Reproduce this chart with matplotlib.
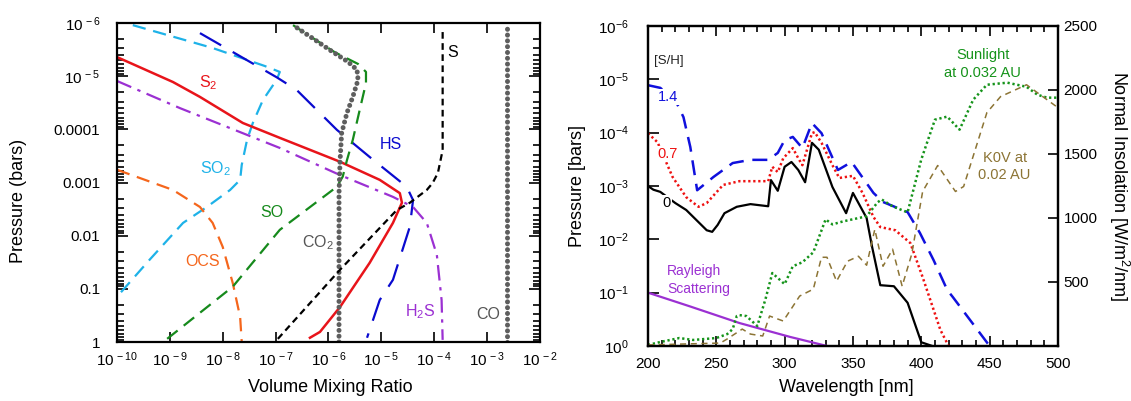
import numpy as np
import matplotlib as mpl
mpl.use('Agg')
import matplotlib.pyplot as plt
from matplotlib.ticker import FixedLocator, NullLocator, MultipleLocator, LogLocator, NullFormatter

plt.rcParams['font.family'] = ['Liberation Sans', 'DejaVu Sans']
plt.rcParams['mathtext.fontset'] = 'custom'
plt.rcParams['mathtext.rm'] = 'Liberation Sans'
plt.rcParams['mathtext.it'] = 'Liberation Sans:italic'
plt.rcParams['mathtext.default'] = 'regular'

# ---- left: mixing ratio profiles, stored as log10(VMR) / log10(P [bar]) ----
so2_x = [-9.70, -8.19, -7.20, -6.92, -6.98, -7.24, -7.43, -7.54, -7.64, -7.67, -7.86, -8.30, -8.75, -9.38, -10.0]
so2_p = [-5.96, -5.53, -5.19, -5.08, -4.93, -4.55, -4.12, -3.80, -3.33, -3.05, -2.86, -2.54, -2.24, -1.55, -0.85]

s2_x = [-10.0, -8.94, -8.43, -7.62, -6.92, -5.78, -5.03, -4.65, -4.61, -4.78, -5.22, -5.78, -6.16, -6.35]
s2_p = [-5.36, -4.89, -4.61, -4.12, -3.84, -3.39, -3.05, -2.80, -2.62, -2.24, -1.49, -0.66, -0.19, -0.08]

h2s_x = [-10.0, -8.81, -6.92, -5.78, -4.78, -4.40, -4.14, -3.95, -3.86, -3.84]
h2s_p = [-4.91, -4.40, -3.65, -3.14, -2.73, -2.54, -2.24, -1.64, -0.79, -0.04]

ocs_x = [-10.0, -8.94, -8.43, -8.19, -8.00, -7.81, -7.67, -7.64]
ocs_p = [-3.24, -2.86, -2.54, -2.24, -1.79, -1.11, -0.47, 0.0]

so_x = [-9.05, -7.81, -6.92, -5.84, -5.73, -5.65, -5.54, -5.41, -5.29, -5.29, -5.44, -5.88, -6.67]
so_p = [-0.06, -1.04, -2.11, -2.92, -3.11, -3.42, -3.80, -4.36, -4.87, -5.08, -5.23, -5.45, -5.96]

co2_x = [-5.80, -5.80, -5.78, -5.75, -5.65, -5.54, -5.44, -5.46, -5.63, -5.97, -6.31, -6.67]
co2_p = [0.0, -2.80, -3.42, -3.93, -4.31, -4.61, -4.93, -5.12, -5.27, -5.49, -5.72, -5.96]

co_x = [-2.63, -2.63]
co_p = [0.0, -6.0]

hs_x = [-8.43, -6.98, -6.60, -5.84, -5.22, -4.52, -4.40, -4.46, -4.78, -5.03, -5.27]
hs_p = [-5.81, -4.98, -4.74, -3.99, -3.48, -2.92, -2.67, -2.17, -1.17, -0.79, -0.08]

s_x = [-3.84, -3.84, -3.93, -4.03, -4.14, -4.46, -4.71, -5.78, -6.92, -7.01]
s_p = [-5.83, -3.61, -3.18, -2.99, -2.86, -2.62, -2.48, -1.36, -0.10, 0.0]

# ---- right: photosphere pressure vs wavelength for three [S/H] ----
wl_0 = [200, 204, 209, 220, 228, 243, 247, 251, 256, 265, 275, 288, 290, 295, 300, 305, 310, 315,
        320, 325, 335, 345, 350, 360, 364, 370, 380, 390, 400, 408]
logp_0 = [-3.00, -2.93, -2.89, -2.68, -2.55, -2.17, -2.14, -2.27, -2.49, -2.61, -2.66, -2.62, -3.11, -2.91,
          -3.36, -3.45, -3.30, -3.07, -3.81, -3.68, -2.98, -2.49, -2.87, -2.40, -1.86, -1.14, -1.12, -0.81,
          -0.07, 0.0]

wl_07 = [200, 207, 218, 228, 237, 243, 255, 267, 288, 291, 295, 299, 306, 310, 313, 320, 322, 327, 335,
         340, 350, 357, 365, 370, 381, 392, 401, 414, 420]
logp_07 = [-3.99, -3.82, -3.17, -2.79, -2.61, -2.68, -3.02, -3.09, -3.09, -3.36, -3.26, -3.52, -3.71, -3.52,
           -3.39, -3.99, -4.01, -3.81, -3.39, -3.15, -3.19, -2.87, -2.42, -2.23, -2.17, -1.93, -1.29, -0.30, 0.0]

wl_14 = [200, 209, 220, 226, 231, 236, 248, 262, 275, 288, 295, 300, 306, 313, 320, 327, 339, 349, 365,
         372, 390, 399, 409, 419, 423, 450]
logp_14 = [-4.89, -4.84, -4.61, -4.29, -3.73, -2.92, -3.17, -3.43, -3.49, -3.49, -3.62, -3.86, -3.92, -3.71,
           -4.18, -3.99, -3.30, -3.45, -2.87, -2.70, -2.51, -2.12, -1.61, -1.05, -0.92, 0.0]

wl_ray = [200, 231, 267, 304, 331]
logp_ray = [-1.00, -0.74, -0.43, -0.17, 0.0]

# insolation [W/m^2/nm]
wl_sun = [200, 209, 223, 233, 250, 258, 262, 265, 267, 272, 280, 286, 291, 300, 306, 313, 321, 330, 335,
          343, 360, 368, 371, 379, 390, 393, 400, 410, 419, 428, 438, 448, 463, 477, 485, 492, 500]
ins_sun = [8, 31, 62, 47, 62, 93, 132, 234, 241, 234, 156, 366, 570, 483, 623, 654, 732, 989, 950,
           974, 1013, 1122, 1145, 1091, 1044, 1169, 1457, 1768, 1792, 1690, 1924, 2041, 2057, 2025, 1963, 1940, 1940]

wl_k0v = [200, 253, 258, 269, 275, 284, 289, 299, 311, 321, 327, 331, 338, 346, 354, 360, 366, 372, 379,
          386, 393, 401, 412, 425, 431, 448, 458, 477, 487, 500]
ins_k0v = [8, 23, 55, 132, 93, 78, 234, 195, 390, 444, 693, 693, 506, 662, 701, 631, 911, 623, 756,
           467, 717, 1207, 1410, 1207, 1246, 1823, 1948, 2041, 1963, 1862]


def p10(a):
    return 10.0 ** np.asarray(a)


fig = plt.figure(figsize=(11.31, 4.01), dpi=100)
TICK_FS = 11
AXLAB_FS = 13

# ================= left panel =================
ax1 = fig.add_axes([0.1034, 0.1471, 0.3740, 0.7955])
ax1.set_xscale('log')
ax1.set_yscale('log')

lw = 1.6
ax1.plot(p10(so2_x), p10(so2_p), color='#1EB2E8', lw=lw, dashes=(6, 3.5))
ax1.plot(p10(hs_x), p10(hs_p), color='#0A0ACF', lw=lw, dashes=(11, 6))
ax1.plot(p10(s2_x), p10(s2_p), color='#E8141A', lw=1.8)
ax1.plot(p10(h2s_x), p10(h2s_p), color='#9B30D2', lw=lw, dashes=(7, 3, 1.5, 3))
ax1.plot(p10(ocs_x), p10(ocs_p), color='#F5661C', lw=lw, dashes=(6, 3.5))
ax1.plot(p10(so_x), p10(so_p), color='#168A1C', lw=lw, dashes=(6, 3.5))
ax1.plot(p10(co2_x), p10(co2_p), color='#5E5E5E', lw=3.6, dashes=(0.01, 1.15), dash_capstyle='round')
ax1.plot(p10(co_x), p10(co_p), color='#5E5E5E', lw=3.6, dashes=(0.01, 1.15), dash_capstyle='round')
ax1.plot(p10(s_x), p10(s_p), color='black', lw=lw, dashes=(3, 2))

ax1.set_xlim(1e-10, 1e-2)
ax1.set_ylim(1, 1e-6)

xt = [10.0 ** e for e in range(-10, -1)]
ax1.xaxis.set_major_locator(FixedLocator(xt))
ax1.set_xticklabels([r'$10^{\,%d}$' % e for e in range(-10, -1)])
ax1.xaxis.set_minor_locator(NullLocator())
yt = [10.0 ** e for e in range(-6, 1)]
ax1.yaxis.set_major_locator(FixedLocator(yt))
ax1.set_yticklabels([r'$10^{\,-6}$', r'$10^{\,-5}$', '0.0001', '0.001', '0.01', '0.1', '1'])
ax1.yaxis.set_minor_locator(LogLocator(base=10, subs=np.arange(2, 10), numticks=20))
ax1.yaxis.set_minor_formatter(NullFormatter())
ax1.tick_params(which='both', direction='in', top=True, right=True, labelsize=TICK_FS, width=1.2)
ax1.tick_params(axis='x', which='major', length=7, pad=6)
ax1.tick_params(axis='y', which='major', length=8, pad=12)
ax1.tick_params(axis='y', which='minor', length=5)
for sp in ax1.spines.values():
    sp.set_linewidth(1.6)

lab = dict(ha='center', va='center', fontsize=11.5)
ax1.text(p10(-8.28), p10(-4.87), r'S$_2$', color='#E8141A', **lab)
ax1.text(p10(-8.13), p10(-3.27), r'SO$_2$', color='#1EB2E8', **lab)
ax1.text(p10(-4.82), p10(-3.71), 'HS', color='#0A0ACF', **lab)
ax1.text(p10(-7.07), p10(-2.43), 'SO', color='#168A1C', **lab)
ax1.text(p10(-6.20), p10(-1.86), r'CO$_2$', color='#555555', **lab)
ax1.text(p10(-8.39), p10(-1.51), 'OCS', color='#F5661C', **lab)
ax1.text(p10(-4.27), p10(-0.57), r'H$_2$S', color='#9B30D2', **lab)
ax1.text(p10(-2.97), p10(-0.51), 'CO', color='#555555', **lab)
ax1.text(p10(-3.65), p10(-5.45), 'S', color='black', **lab)

fig.text(330 / 1131, 1 - 387 / 401, 'Volume Mixing Ratio', ha='center', va='center', fontsize=AXLAB_FS)
fig.text(19 / 1131, 0.5, 'Pressure (bars)', ha='center', va='center', rotation=90, fontsize=AXLAB_FS)

# ================= right panel =================
ax = fig.add_axes([0.5729, 0.1372, 0.3625, 0.7980])
ax.set_yscale('log')
ax.plot(wl_ray, p10(logp_ray), color='#9B30D2', lw=1.6)
ax.plot(wl_0, p10(logp_0), color='black', lw=1.6)
ax.plot(wl_07, p10(logp_07), color='#EE1111', lw=1.8, dashes=(0.9, 1.1))
ax.plot(wl_14, p10(logp_14), color='#1010DD', lw=1.8, dashes=(6, 3.5))
ax.set_xlim(200, 500)
ax.set_ylim(1, 1e-6)
ax.yaxis.set_major_locator(FixedLocator([10.0 ** e for e in range(-6, 1)]))
ax.set_yticklabels([r'$10^{%d}$' % e for e in range(-6, 1)])
ax.yaxis.set_minor_locator(NullLocator())
ax.xaxis.set_major_locator(MultipleLocator(50))
ax.xaxis.set_minor_locator(MultipleLocator(10))
ax.tick_params(which='both', direction='in', top=True, right=False, labelsize=TICK_FS, width=1.2)
ax.tick_params(axis='x', which='major', length=7, pad=8)
ax.tick_params(axis='x', which='minor', length=4)
ax.tick_params(axis='y', which='major', length=8, pad=14)
for sp in ax.spines.values():
    sp.set_linewidth(1.6)

ax2 = ax.twinx()
ax2.plot(wl_sun, ins_sun, color='#15931A', lw=1.8, dashes=(0.9, 1.1))
ax2.plot(wl_k0v, ins_k0v, color='#8C7434', lw=1.1, dashes=(4, 3))
ax2.set_ylim(0, 2500)
ax2.set_xlim(200, 500)
ax2.yaxis.set_major_locator(FixedLocator([500, 1000, 1500, 2000, 2500]))
ax2.tick_params(axis='y', direction='in', length=7, width=1.2, pad=4, labelsize=TICK_FS)
for sp in ax2.spines.values():
    sp.set_linewidth(1.6)

wb = dict(fc='white', ec='none', pad=0.5)
ax.text(215.4, p10(-5.34), '[S/H]', ha='center', va='center', fontsize=9.5, color='#222222')
ax.text(214.6, p10(-4.67), '1.4', ha='center', va='center', fontsize=10.5, color='#1010DD', bbox=wb)
ax.text(214.6, p10(-3.60), '0.7', ha='center', va='center', fontsize=10.5, color='#EE1111', bbox=wb)
ax.text(213.9, p10(-2.68), '0', ha='center', va='center', fontsize=10.5, color='black', bbox=wb)
ax.text(213.9, p10(-1.24), 'Rayleigh\nScattering', ha='left', va='center', fontsize=10,
        color='#9B30D2', linespacing=1.35)
ax.text(445, p10(-5.29), 'Sunlight\nat 0.032 AU', ha='center', va='center', fontsize=10.5,
        color='#15931A', linespacing=1.3)
ax.text(461, p10(-3.37), 'K0V at\n0.02 AU', ha='center', va='center', fontsize=10.5,
        color='#8C7434', linespacing=1.3)

fig.text(846 / 1131, 1 - 388 / 401, 'Wavelength [nm]', ha='center', va='center', fontsize=AXLAB_FS)
fig.text(577 / 1131, 1 - 186 / 401, 'Pressure [bars]', ha='center', va='center', rotation=90, fontsize=AXLAB_FS)
fig.text(1119 / 1131, 1 - 186 / 401, r'Normal Insolation [W/m$^2$/nm]', ha='center', va='center',
         rotation=270, fontsize=AXLAB_FS)

fig.savefig('out.png', dpi=100)
